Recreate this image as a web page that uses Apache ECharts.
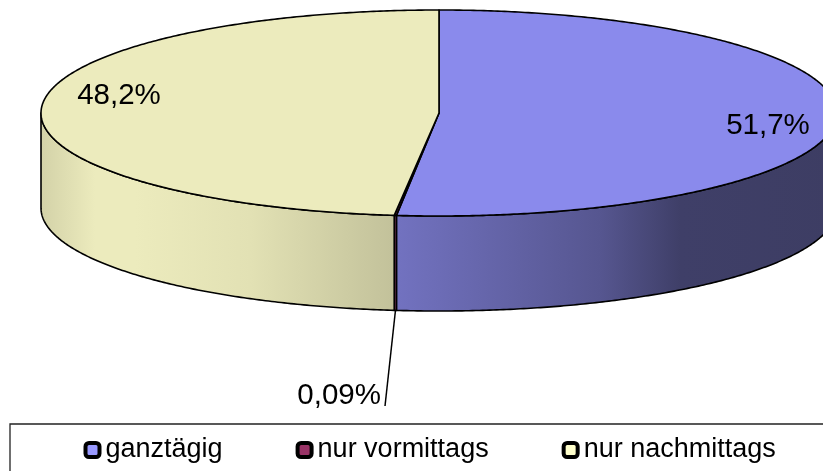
<!DOCTYPE html>
<html>
<head>
<meta charset="utf-8">
<style>html,body{margin:0;padding:0;background:#fff;overflow:hidden}#c{width:823px;height:471px}</style>
<script src="https://cdn.jsdelivr.net/npm/echarts@6/dist/echarts.min.js"></script>
</head>
<body>
<div id="c"></div>
<script>
const categories = ['ganztägig', 'nur vormittags', 'nur nachmittags'];
const shares = [51.7, 0.09, 48.2];
const shareLabels = ['51,7%', '0,09%', '48,2%'];
const topColors = ['#8A8AEC', '#8C2F5C', '#ECEBBD'];
const legendColors = ['#9999FF', '#993366', '#FFFFCC'];

// Drawing geometry of the tilted disc
const disc = { cx: 439, cy: 113, rx: 398, ry: 103, depth: 95 };
const wallStops = [
  [[396, '#7272C0'], [600, '#565690'], [680, '#3F3F68'], [840, '#3D3D63']],
  [[396, '#6A3050'], [400, '#6A3050']],
  [[41, '#D3D2A8'], [95, '#ECEBBD'], [135, '#ECEBBD'], [250, '#E2E1B4'], [396, '#C2C19A']]
];
const labelSpots = [
  { x: 768, y: 126, align: 'center' },
  { x: 381, y: 396, align: 'right', leader: [[395.5, 310], [385, 406]] },
  { x: 119, y: 96, align: 'center' }
];

const total = shares.reduce((a, b) => a + b, 0);
const FONT = '"Liberation Sans", Arial, sans-serif';

function pt(deg, dy) {
  const t = deg * Math.PI / 180;
  return [disc.cx + disc.rx * Math.sin(t), disc.cy - disc.ry * Math.cos(t) + (dy || 0)];
}
function arc(a0, a1, dy) {
  const out = [], n = Math.max(1, Math.ceil(Math.abs(a1 - a0) * 2));
  for (let i = 0; i <= n; i++) out.push(pt(a0 + (a1 - a0) * i / n, dy));
  return out;
}
function gradient(stops) {
  const x0 = stops[0][0], x1 = stops[stops.length - 1][0];
  return {
    type: 'linear', x: x0, y: 0, x2: x1, y2: 0, global: true,
    colorStops: stops.map(s => ({ offset: (s[0] - x0) / (x1 - x0), color: s[1] }))
  };
}

function makeRender(idx) {
  return function (params, api) {
    const value = api.value(0);
    let before = 0;
    for (let i = 0; i < idx; i++) before += shares[i];
    const a0 = before / total * 360, a1 = a0 + value / total * 360;
    const children = [];
    const w0 = Math.max(a0, 90), w1 = Math.min(a1, 270);
    if (w1 > w0) {
      children.push({
        type: 'polygon', z2: 1,
        shape: { points: arc(w0, w1, 0).concat(arc(w1, w0, disc.depth)) },
        style: { fill: gradient(wallStops[idx]), stroke: '#000', lineWidth: 1.6, lineJoin: 'round' }
      });
    }
    children.push({
      type: 'polygon', z2: 2,
      shape: { points: [[disc.cx, disc.cy]].concat(arc(a0, a1, 0)) },
      style: { fill: topColors[idx], stroke: '#000', lineWidth: 1.6, lineJoin: 'round' }
    });
    const spot = labelSpots[idx];
    if (spot.leader) {
      children.push({
        type: 'line', z2: 3,
        shape: { x1: spot.leader[0][0], y1: spot.leader[0][1], x2: spot.leader[1][0], y2: spot.leader[1][1] },
        style: { stroke: '#000', lineWidth: 1.5 }
      });
    }
    children.push({
      type: 'text', z2: 4,
      style: {
        text: shareLabels[idx], x: spot.x, y: spot.y, fill: '#000',
        font: '29.5px ' + FONT, textAlign: spot.align, textVerticalAlign: 'middle'
      }
    });
    return { type: 'group', children };
  };
}

const chart = echarts.init(document.getElementById('c'), null, { renderer: 'canvas' });
chart.setOption({
  animation: false,
  backgroundColor: '#fff',
  tooltip: { show: false },
  graphic: [{
    type: 'rect', z: -1, silent: true,
    shape: { x: 10, y: 424, width: 900, height: 120 },
    style: { fill: '#fff', stroke: '#222', lineWidth: 1.3 }
  }],
  legend: {
    left: 83.5, top: 436.5, width: 730, padding: 0,
    selectedMode: false,
    itemWidth: 14, itemHeight: 14, itemGap: 73,
    textStyle: { fontSize: 27, fontFamily: FONT, color: '#000', padding: [4, 0, 0, 1] },
    data: categories.map((name, i) => ({
      name, icon: 'roundRect',
      itemStyle: { color: legendColors[i], borderColor: '#000', borderWidth: 4 }
    }))
  },
  series: categories.map((name, i) => ({
    type: 'custom',
    name,
    coordinateSystem: 'none',
    silent: true,
    clip: false,
    z: 2,
    renderItem: makeRender(i),
    data: [[shares[i]]]
  }))
});
</script>
</body>
</html>
